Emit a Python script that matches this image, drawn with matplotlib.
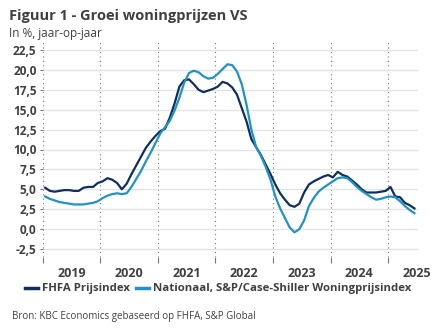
import numpy as np
import matplotlib
matplotlib.use("Agg")
import matplotlib.pyplot as plt
from matplotlib.ticker import FixedLocator, FuncFormatter

plt.rcParams['font.family'] = ['Open Sans', 'DejaVu Sans']

# Monthly year-on-year growth, Jan 2019 - Jun 2025 (%)
fhfa = [5.2, 4.8, 4.7, 4.8, 4.9, 4.9, 4.8, 4.8, 5.2, 5.3, 5.3, 5.8,
        6.0, 6.4, 6.2, 5.8, 5.0, 5.7, 6.9, 8.0, 9.1, 10.2, 11.0, 11.7,
        12.3, 12.6, 14.0, 15.8, 17.9, 18.7, 18.8, 18.2, 17.5, 17.2, 17.4, 17.6,
        17.9, 18.5, 18.3, 17.8, 16.9, 15.2, 13.5, 11.3, 10.3, 9.3, 8.1, 6.9,
        5.6, 4.5, 3.7, 3.0, 2.8, 3.2, 4.6, 5.6, 6.0, 6.3, 6.6, 6.8,
        6.5, 7.2, 6.8, 6.6, 6.1, 5.6, 5.0, 4.6, 4.6, 4.6, 4.7, 4.8,
        5.3, 4.1, 4.0, 3.3, 3.0, 2.6]
case_shiller = [4.1, 3.8, 3.6, 3.4, 3.3, 3.2, 3.1, 3.1, 3.1, 3.2, 3.3, 3.5,
                3.9, 4.2, 4.4, 4.5, 4.4, 4.5, 5.3, 6.3, 7.3, 8.5, 9.6, 10.8,
                12.0, 12.8, 13.6, 14.9, 16.5, 18.4, 19.6, 19.9, 19.7, 19.2, 18.9, 19.0,
                19.5, 20.1, 20.7, 20.6, 19.8, 18.2, 15.6, 12.5, 10.3, 9.2, 7.8, 6.2,
                4.1, 2.6, 1.4, 0.2, -0.4, 0.0, 1.1, 2.9, 3.9, 4.7, 5.2, 5.6,
                6.0, 6.4, 6.5, 6.4, 5.9, 5.3, 4.8, 4.4, 4.0, 3.7, 3.8, 4.0,
                4.1, 4.0, 3.5, 2.9, 2.4, 2.0]
years = [2019, 2020, 2021, 2022, 2023, 2024, 2025]
yticks = [-2.5, 0, 2.5, 5, 7.5, 10, 12.5, 15, 17.5, 20, 22.5]

months = 2019 + (np.arange(len(fhfa)) + 0.5) / 12

DARK = '#0f2f5f'
LIGHT = '#1f93c5'
TEXT = '#404040'

fig = plt.figure(figsize=(4.32, 3.34), dpi=100)
ax = fig.add_axes([42.7 / 432, 77 / 334, 375.3 / 432, 215 / 334])

ax.plot(months, fhfa, color=DARK, lw=1.6, label='FHFA Prijsindex', zorder=3)
ax.plot(months, case_shiller, color=LIGHT, lw=1.6,
        label='Nationaal, S&P/Case-Shiller Woningprijsindex', zorder=3)

ax.set_xlim(2019, 2025.52)
ax.set_ylim(-3.5, 23.5)

# horizontal grid
ax.yaxis.set_major_locator(FixedLocator(yticks))
ax.yaxis.set_major_formatter(FuncFormatter(lambda v, p: f'{v:.1f}'.replace('.', ',')))
ax.grid(axis='y', color='#e3e3e3', lw=0.9, zorder=0)

# year boundaries as dotted lines, year labels centred in between
for y in years:
    ax.axvline(y, color='#777777', lw=0.8, ls=(0, (1, 3)), zorder=1)
ax.xaxis.set_major_locator(FixedLocator(years))
ax.xaxis.set_minor_locator(FixedLocator([y + 0.5 for y in years]))
ax.xaxis.set_major_formatter(FuncFormatter(lambda v, p: ''))
ax.xaxis.set_minor_formatter(FuncFormatter(lambda v, p: str(int(v))))
ax.tick_params(axis='x', which='major', length=4, width=0.8, color='#777777')
ax.tick_params(axis='x', which='minor', length=0, pad=7, labelsize=9,
               labelcolor=TEXT)
ax.tick_params(axis='y', length=2.5, width=0.8, color='#777777', pad=2,
               labelsize=8.5, labelcolor=TEXT)
for lab in ax.get_xticklabels(minor=True) + ax.get_yticklabels():
    lab.set_fontweight('bold')

for s in ax.spines.values():
    s.set_visible(False)

fig.text(9 / 432, 1 - 16 / 334, 'Figuur 1 - Groei woningprijzen VS',
         fontsize=10.5, fontweight='bold', color=TEXT, va='center')
fig.text(9 / 432, 1 - 34 / 334, 'In %, jaar-op-jaar', fontsize=8.5,
         color=TEXT, va='center')

leg = fig.legend(loc='center left', bbox_to_anchor=(25 / 432, 1 - 289 / 334),
                 ncol=2, frameon=False, handlelength=1.1, handletextpad=0.35,
                 columnspacing=0.6, borderpad=0, borderaxespad=0,
                 prop={'size': 8.2, 'weight': 'bold'})
for t in leg.get_texts():
    t.set_color(TEXT)
for h in leg.legend_handles:
    h.set_linewidth(2.5)

fig.text(12 / 432, 1 - 316 / 334,
         'Bron: KBC Economics gebaseerd op FHFA, S&P Global',
         fontsize=7, color=TEXT, va='center')

fig.savefig('out.png', dpi=100)
